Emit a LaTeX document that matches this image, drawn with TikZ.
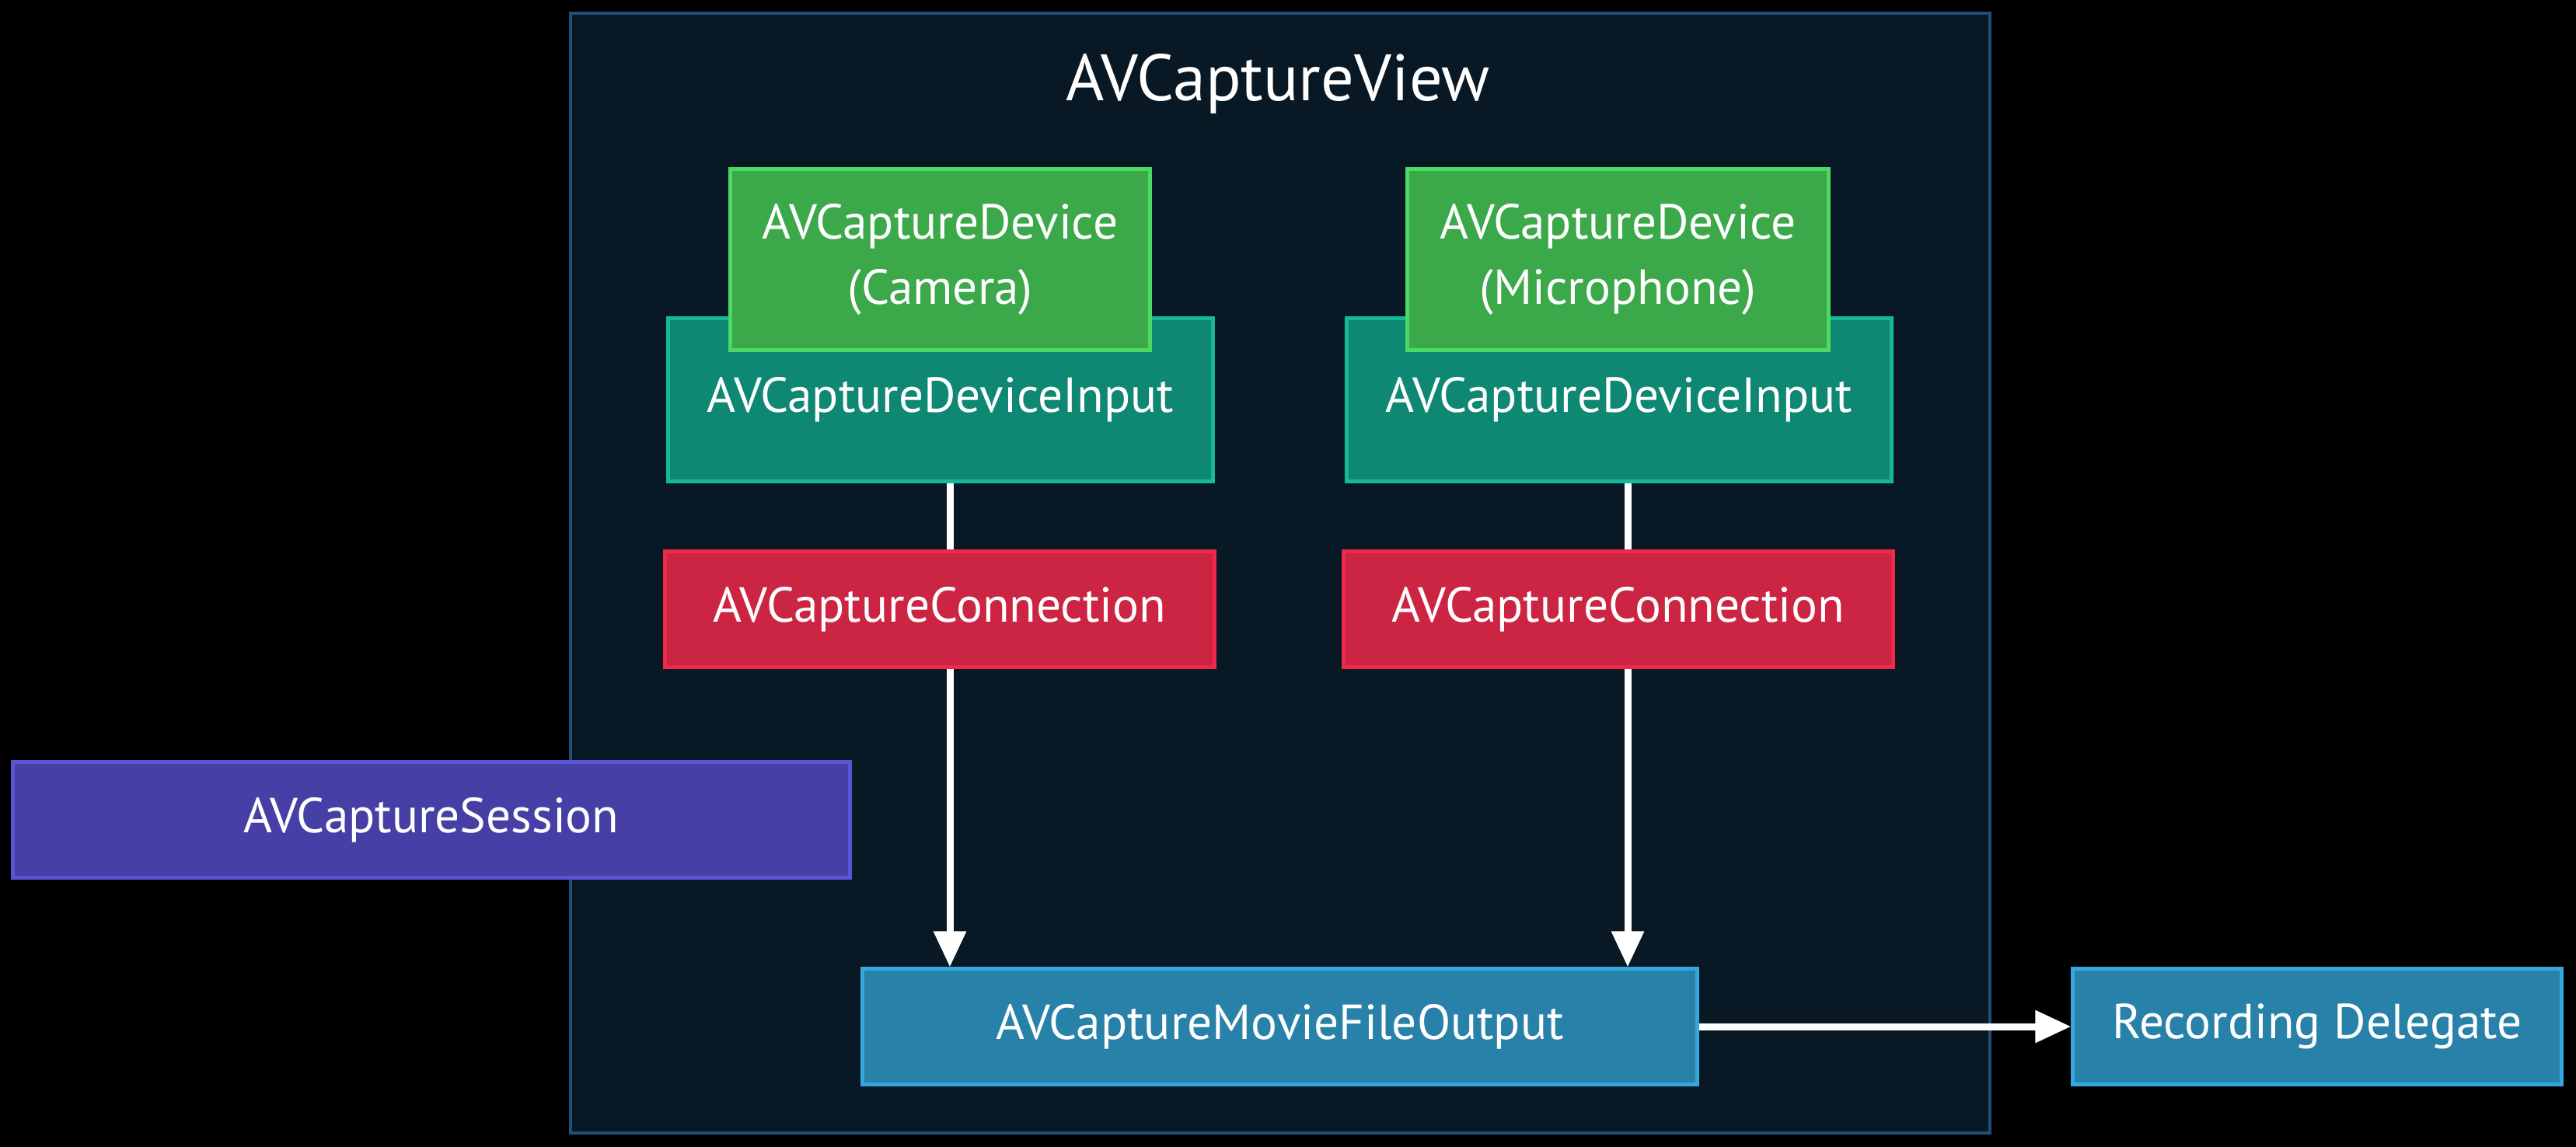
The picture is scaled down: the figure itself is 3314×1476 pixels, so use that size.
\documentclass[tikz,border=0pt]{standalone}
\usepackage{fontspec}
\setmainfont{PT Sans}
\usetikzlibrary{arrows.meta}
\definecolor{bgnavy}{HTML}{081824}
\definecolor{navyline}{HTML}{1F4E7A}
\definecolor{grfill}{HTML}{3BA84A}
\definecolor{grline}{HTML}{4CD964}
\definecolor{tlfill}{HTML}{0E8872}
\definecolor{tlline}{HTML}{16B89A}
\definecolor{rdfill}{HTML}{CC2443}
\definecolor{rdline}{HTML}{F0284A}
\definecolor{pufill}{HTML}{4640A6}
\definecolor{puline}{HTML}{5A55D6}
\definecolor{blfill}{HTML}{2881A8}
\definecolor{blline}{HTML}{34A8DC}
\tikzset{
  box/.style={rectangle, inner sep=0pt, line width=0.05cm, text=white,
    font=\fontsize{18}{24}\selectfont, align=center},
  greenbox/.style={box, fill=grfill, draw=grline},
  tealbox/.style={box, fill=tlfill, draw=tlline},
  redbox/.style={box, fill=rdfill, draw=rdline},
  purplebox/.style={box, fill=pufill, draw=puline},
  bluebox/.style={box, fill=blfill, draw=blline},
  arr/.style={draw=white, line width=0.09cm, -{Triangle[length=0.46cm, width=0.40cm]}},
}
\begin{document}
\begin{tikzpicture}[x=0.01cm, y=-0.01cm]
\fill[black] (0,0) rectangle (3314,1476);
\useasboundingbox (0,0) rectangle (3314,1476);
\node[rectangle, fill=bgnavy, draw=navyline, line width=0.04cm, minimum width=18.24cm, minimum height=14.41cm, inner sep=0pt] (view) at (1647,737.5) {};
\node[text=white, font=\fontsize{24}{28}\selectfont] (title) at (1644,108) {AVCaptureView};
\node[tealbox, minimum width=7.00cm, minimum height=2.09cm] (inL) at (1210,514.5) {AVCaptureDeviceInput};
\node[tealbox, minimum width=7.00cm, minimum height=2.09cm] (inR) at (2083,514.5) {AVCaptureDeviceInput};
\node[greenbox, minimum width=5.39cm, minimum height=2.32cm] (cam) at (1209.5,334) {AVCaptureDevice\\(Camera)};
\node[greenbox, minimum width=5.41cm, minimum height=2.32cm] (mic) at (2081.5,334) {AVCaptureDevice\\(Microphone)};
\node[bluebox, minimum width=10.73cm, minimum height=1.48cm] (out) at (1646.5,1321) {AVCaptureMovieFileOutput};
\node[bluebox, minimum width=6.28cm, minimum height=1.48cm] (rec) at (2981,1321) {Recording Delegate};
\draw[arr] ([xshift=0.12cm]inL.south) -- ([xshift=0.12cm]inL.south |- out.north);
\draw[arr] ([xshift=0.11cm]inR.south) -- ([xshift=0.11cm]inR.south |- out.north);
\draw[arr] (out.east) -- (rec.west);
\node[redbox, minimum width=7.06cm, minimum height=1.48cm] (connL) at (1209,784) {AVCaptureConnection};
\node[redbox, minimum width=7.06cm, minimum height=1.48cm] (connR) at (2082,784) {AVCaptureConnection};
\node[purplebox, minimum width=10.76cm, minimum height=1.48cm] (session) at (555,1055) {AVCaptureSession};
\end{tikzpicture}
\end{document}
